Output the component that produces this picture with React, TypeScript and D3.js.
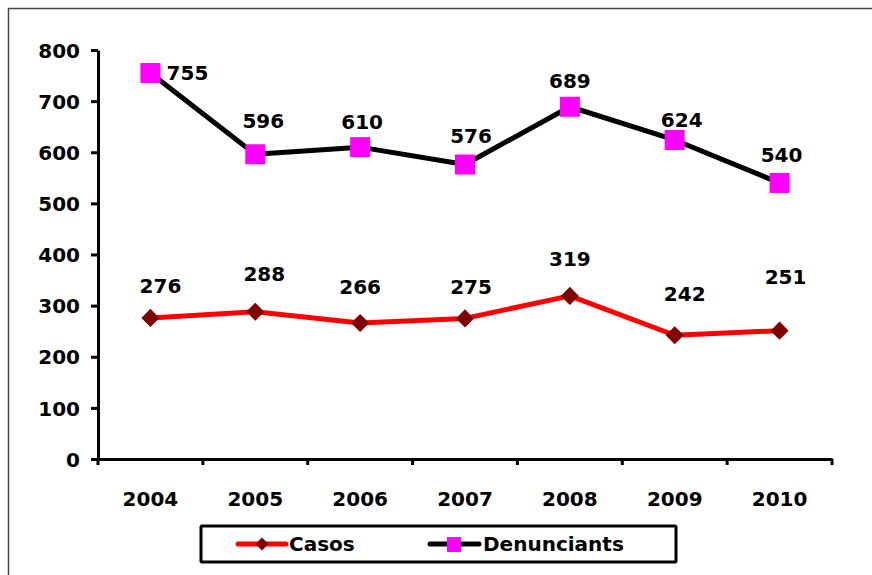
import React, { useEffect, useRef } from 'react';
import * as d3 from 'd3';

// data
const years = ['2004', '2005', '2006', '2007', '2008', '2009', '2010'];
const casos = [276, 288, 266, 275, 319, 242, 251];
const denunciants = [755, 596, 610, 576, 689, 624, 540];
const yTicks = [0, 100, 200, 300, 400, 500, 600, 700, 800];

// manual label nudges (the labels were moved by hand in the original)
const casosLabelDx = [10, 9, 0, 6, 0, 10, 6];
const casosLabelDy = [-25, -31, -29, -24, -30, -34, -47];
const denLabelDx = [37, 8, 2, 6, 0, 7, 2];
const denLabelDy = [7, -26, -18, -22, -19, -13, -21];

const App = () => {
  const ref = useRef<SVGSVGElement>(null);

  useEffect(() => {
    const svg = d3.select(ref.current);
    svg.selectAll('*').remove();

    const width = 872;
    const height = 575;
    const font = '"DejaVu Sans", Verdana, sans-serif';
    const fs = 20;
    const left = 98, right = 832, top = 50, bottom = 459;

    const x = d3.scaleBand().domain(years).range([left, right]);
    const y = d3.scaleLinear().domain([0, 800]).range([bottom, top]);
    const cx = (d: string) => (x(d) as number) + x.bandwidth() / 2;

    // outer frame (runs off the right and bottom)
    svg.append('rect')
      .attr('x', 8.5).attr('y', 8.5)
      .attr('width', width + 10).attr('height', height + 10)
      .attr('fill', 'white').attr('stroke', '#444').attr('stroke-width', 1.5);

    // y axis
    const yAxis = svg.append('g').attr('transform', `translate(${left},0)`)
      .call(d3.axisLeft(y).tickValues(yTicks).tickSize(7).tickSizeOuter(0).tickPadding(11));
    // x axis
    const xAxis = svg.append('g').attr('transform', `translate(0,${bottom})`)
      .call(d3.axisBottom(x).tickSize(0).tickPadding(33));
    // category boundary ticks
    xAxis.selectAll('line.bound')
      .data(d3.range(years.length + 1))
      .enter().append('line')
      .attr('class', 'bound')
      .attr('x1', i => left + i * x.step()).attr('x2', i => left + i * x.step())
      .attr('y1', 0).attr('y2', 6)
      .attr('stroke', 'black').attr('stroke-width', 3);

    [yAxis, xAxis].forEach(g => {
      g.select('.domain').attr('stroke', 'black').attr('stroke-width', 3);
      g.selectAll('.tick line').attr('stroke', 'black').attr('stroke-width', 3);
      g.selectAll('text')
        .attr('font-family', font).attr('font-weight', 'bold')
        .attr('font-size', fs).attr('fill', 'black');
    });
    yAxis.selectAll('text').attr('dy', '0.36em');

    const line = d3.line<number>()
      .x((_, i) => cx(years[i]))
      .y(d => y(d));

    // Casos
    svg.append('path').datum(casos)
      .attr('d', line).attr('fill', 'none')
      .attr('stroke', '#ff0000').attr('stroke-width', 5).attr('stroke-linejoin', 'round');
    const diamond = d3.symbol().type(d3.symbolDiamond2).size(210);
    svg.selectAll('path.casos')
      .data(casos).enter().append('path')
      .attr('class', 'casos')
      .attr('d', diamond)
      .attr('transform', (d, i) => `translate(${cx(years[i])},${y(d)})`)
      .attr('fill', '#800000');

    // Denunciants
    svg.append('path').datum(denunciants)
      .attr('d', line).attr('fill', 'none')
      .attr('stroke', 'black').attr('stroke-width', 5).attr('stroke-linejoin', 'round');
    svg.selectAll('rect.den')
      .data(denunciants).enter().append('rect')
      .attr('class', 'den')
      .attr('x', (d, i) => cx(years[i]) - 10)
      .attr('y', d => y(d) - 10)
      .attr('width', 20).attr('height', 20)
      .attr('fill', '#ff00ff');

    // value labels
    const label = (vals: number[], dx: number[], dy: number[]) =>
      svg.append('g').selectAll('text')
        .data(vals).enter().append('text')
        .attr('x', (d, i) => cx(years[i]) + dx[i])
        .attr('y', (d, i) => y(d) + dy[i])
        .attr('text-anchor', 'middle')
        .attr('font-family', font).attr('font-weight', 'bold')
        .attr('font-size', fs).attr('fill', 'black')
        .text(d => d);
    label(casos, casosLabelDx, casosLabelDy);
    label(denunciants, denLabelDx, denLabelDy);

    // legend
    const lg = svg.append('g');
    lg.append('rect')
      .attr('x', 201).attr('y', 526).attr('width', 475).attr('height', 36)
      .attr('fill', 'white').attr('stroke', 'black').attr('stroke-width', 3).attr('rx', 1);
    lg.append('line').attr('x1', 238).attr('x2', 286).attr('y1', 544).attr('y2', 544)
      .attr('stroke', '#ff0000').attr('stroke-width', 5).attr('stroke-linecap', 'round');
    lg.append('path').attr('d', d3.symbol().type(d3.symbolDiamond2).size(110))
      .attr('transform', 'translate(262,544)').attr('fill', '#800000');
    lg.append('text').attr('x', 289).attr('y', 551).text('Casos');
    lg.append('line').attr('x1', 430).attr('x2', 479).attr('y1', 544).attr('y2', 544)
      .attr('stroke', 'black').attr('stroke-width', 5).attr('stroke-linecap', 'round');
    lg.append('rect').attr('x', 447).attr('y', 537).attr('width', 14).attr('height', 15)
      .attr('fill', '#ff00ff');
    lg.append('text').attr('x', 483).attr('y', 551).text('Denunciants');
    lg.selectAll('text')
      .attr('font-family', font).attr('font-weight', 'bold')
      .attr('font-size', fs).attr('fill', 'black');
  }, []);

  return (
    <svg ref={ref} width={872} height={575}
      style={{ position: 'absolute', left: 0, top: 0, background: 'white' }} />
  );
};

export default App;
